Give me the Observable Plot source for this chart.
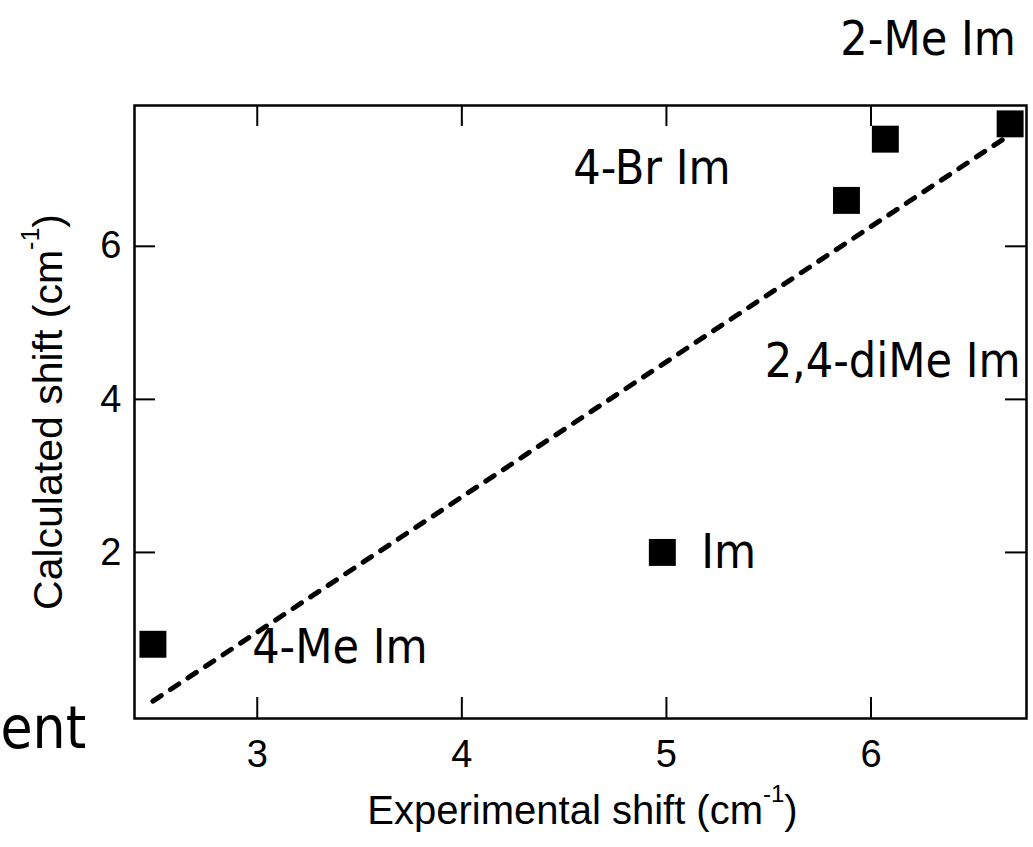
<!DOCTYPE html>
<html><head><meta charset="utf-8">
<script src="https://cdn.jsdelivr.net/npm/d3@7"></script>
<script src="https://cdn.jsdelivr.net/npm/@observablehq/plot@0.6"></script>
<style>html,body{margin:0;padding:0;background:#fff;} #chart svg{display:block}</style>
</head><body><div id="chart"></div>
<script>
// ---- data ----
const expShift  = [2.49, 4.98, 5.88, 6.07, 6.68];   // Experimental shift (cm-1)
const calcShift = [0.8, 2.0, 6.6, 7.4, 7.6];        // Calculated shift (cm-1)
const labels = ["4-Me Im", "Im", "4-Br Im", "2,4-diMe Im", "2-Me Im"];
const labelX = [2.975, 5.17, 4.545, 5.48, 5.85];
const labelY = [0.75, 2.0, 7.02, 4.49, 8.70];
const xTicks = [3, 4, 5, 6];
const yTicks = [2, 4, 6];
const xTitle = "Experimental shift (cm-1)";
const yTitle = "Calculated shift (cm-1)";
const fragment = ["ent"];

// ---- layout ----
const W = 1033, H = 847;
const mL = 134, mT = 105, mR = 7, mB = 129;
const plotW = W - mL - mR, plotH = H - mT - mB;
const tickLen = 21;
const labelFont = "'DejaVu Sans Condensed', 'DejaVu Sans', sans-serif";
const axisFont = "'Liberation Sans', Arial, sans-serif";

const pts = expShift.map((x, i) => ({x, y: calcShift[i]}));
const ann = labels.map((t, i) => ({t, x: labelX[i], y: labelY[i]}));
const tickStyle = {stroke: "black", strokeWidth: 2};

const chart = Plot.plot({
  width: W, height: H,
  marginLeft: mL, marginTop: mT, marginRight: mR, marginBottom: mB,
  x: {domain: [2.4, 6.76]},
  y: {domain: [-0.17, 7.84]},
  style: {background: "white", color: "black"},
  marks: [
    Plot.linearRegressionY(pts, {x: "x", y: "y", ci: 0, stroke: "black", strokeWidth: 5, strokeDasharray: "10,11", strokeLinecap: "round"}),
    Plot.tickX(xTicks, {x: d => d, insetTop: plotH - tickLen, ...tickStyle}),
    Plot.tickX(xTicks, {x: d => d, insetBottom: plotH - tickLen, ...tickStyle}),
    Plot.tickY(yTicks, {y: d => d, insetRight: plotW - tickLen, ...tickStyle}),
    Plot.tickY(yTicks, {y: d => d, insetLeft: plotW - tickLen, ...tickStyle}),
    Plot.frame({stroke: "black", strokeWidth: 2.5}),
    Plot.axisX(xTicks, {tickSize: 0, tickPadding: 22, tickFormat: d => String(d), fontSize: 38, fontFamily: axisFont, label: null}),
    Plot.axisY(yTicks, {tickSize: 0, tickPadding: 13, tickFormat: d => String(d), fontSize: 38, fontFamily: axisFont, label: null}),
    Plot.dot(pts, {x: "x", y: "y", symbol: "square", r: 15.2, fill: "black", stroke: "none"}),
    Plot.text(ann, {x: "x", y: "y", text: "t", textAnchor: "start", fontSize: 48, fontFamily: labelFont, fill: "black"}),
    Plot.text(fragment, {text: d => d, frameAnchor: "bottom-left", dx: -mL, dy: 11, textAnchor: "start", lineAnchor: "middle", fontSize: 58, fontFamily: labelFont, fill: "black"}),
    Plot.text([xTitle], {text: d => d, frameAnchor: "bottom", dx: 2, dy: 93, textAnchor: "middle", lineAnchor: "middle", fontSize: 40, fontFamily: axisFont, fill: "black"}),
    Plot.text([yTitle], {text: d => d, frameAnchor: "left", rotate: -90, dx: -86, dy: 0, textAnchor: "middle", lineAnchor: "middle", fontSize: 41, fontFamily: axisFont, fill: "black"})
  ]
});

// superscript "-1" in axis titles
chart.querySelectorAll("text").forEach(t => {
  const s = t.textContent;
  if (s.includes("(cm-1)")) {
    const fs = parseFloat(t.closest("g").getAttribute("font-size")) || 38;
    const [pre] = s.split("-1)");
    t.textContent = "";
    const ns = "http://www.w3.org/2000/svg";
    const a = document.createElementNS(ns, "tspan"); a.textContent = pre; t.appendChild(a);
    const b = document.createElementNS(ns, "tspan"); b.textContent = "-1";
    const up = Math.round(fs * 0.55);
    b.setAttribute("font-size", String(Math.round(fs * 0.6))); b.setAttribute("dy", String(-up)); t.appendChild(b);
    const c = document.createElementNS(ns, "tspan"); c.textContent = ")"; c.setAttribute("dy", String(up)); t.appendChild(c);
  }
});
document.getElementById("chart").appendChild(chart);
</script>
</body></html>
